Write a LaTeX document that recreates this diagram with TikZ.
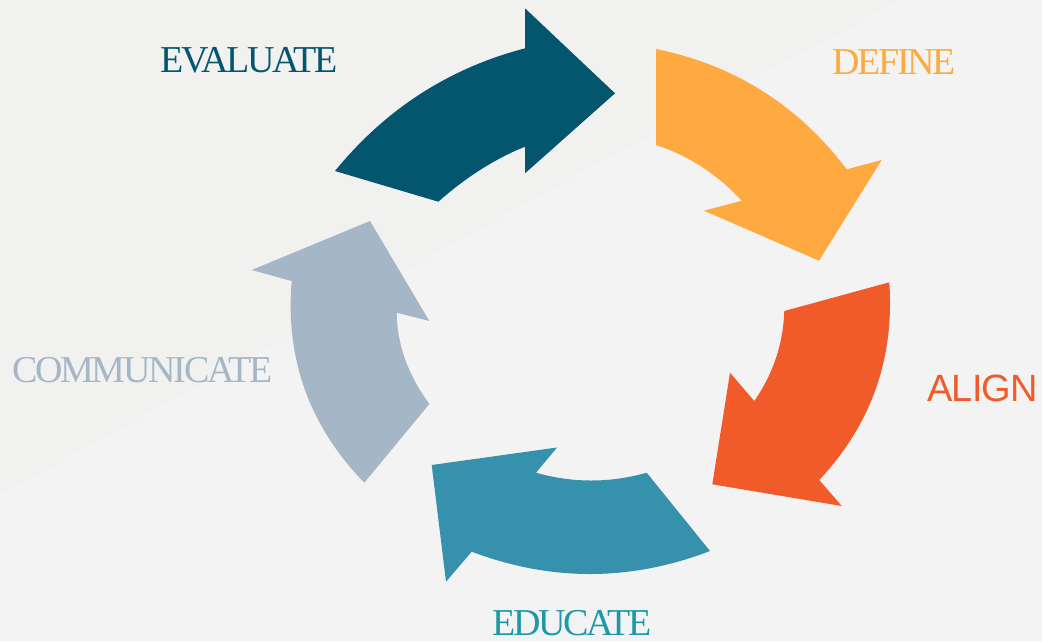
\documentclass[tikz,border=0pt]{standalone}
\usepackage{fontspec}
\setmainfont{Liberation Serif}
\newfontfamily\lblserif[LetterSpace=-6]{Liberation Serif}
\newfontfamily\lblsans[LetterSpace=-2]{Liberation Sans}
\definecolor{bgc}{RGB}{243,243,243}
\definecolor{bgtop}{RGB}{241,241,239}
\definecolor{evalc}{RGB}{4,86,111}
\definecolor{defc}{RGB}{255,170,64}
\definecolor{alignc}{RGB}{241,91,42}
\definecolor{educ}{RGB}{54,145,172}
\definecolor{edutext}{RGB}{28,152,168}
\definecolor{commc}{RGB}{165,182,198}
\tikzset{
  lbl/.style={anchor=base west, inner sep=0pt, font=\lblserif\fontsize{38}{40}\selectfont},
  lblsf/.style={anchor=base west, inner sep=0pt, font=\lblsans\fontsize{38}{40}\selectfont}
}
\begin{document}
\begin{tikzpicture}[x=1pt,y=-1pt]
\useasboundingbox (0,0) rectangle (1042,641);
\fill[bgc] (0,0) rectangle (1042,641);
\fill[bgtop] (0,0) -- (900,0) -- (640,140) -- (0,495) -- cycle;
% EVALUATE arrow
\fill[evalc] (335,171) .. controls (385.4,109.2) and (448.7,68.3) .. (525,48.3)
  -- (525,8.3) -- (615,93.3) -- (525,173.3) -- (525,146.7)
  .. controls (495.2,158.6) and (466.3,177) .. (438.3,201.7) -- cycle;
% DEFINE arrow
\fill[defc] (656,49) .. controls (734.4,64.9) and (798,105) .. (846.7,169.3)
  -- (881.7,160) -- (819,260.7) -- (704,210.7) -- (741.7,200.7)
  .. controls (717.3,174.3) and (688.8,155.8) .. (656,145) -- cycle;
% ALIGN arrow
\fill[alignc] (889.3,282.3) .. controls (894.6,358.4) and (871.3,424.3) .. (819.3,480)
  -- (841.7,506) -- (712.3,484.3) -- (730,372.7) -- (754.3,401)
  .. controls (773.2,373.7) and (783.2,343.7) .. (784.3,311) -- cycle;
% EDUCATE arrow
\fill[educ] (710,551) .. controls (630.8,581.4) and (551.3,581.7) .. (471.7,551.7)
  -- (446,581.7) -- (431.7,465) -- (557,447.5) -- (536,472.7)
  .. controls (572.9,483.1) and (609.8,483.1) .. (646.7,472.7) -- cycle;
% COMMUNICATE arrow
\fill[commc] (364.3,482.7) .. controls (309.4,426.3) and (285.2,359.1) .. (291.7,281)
  -- (251.7,270) -- (370,221) -- (429.3,321) -- (396.7,312.7)
  .. controls (396.9,344) and (407.8,374.4) .. (429.3,404) -- cycle;
% labels
\node[lbl, text=evalc] (tevaluate) at (160,72) {EVALUATE};
\node[lbl, text=defc] (tdefine) at (832,74) {DEFINE};
\node[lblsf, text=alignc] (talign) at (927,401) {ALIGN};
\node[lbl, text=edutext] (teducate) at (492,635) {EDUCATE};
\node[lbl, text=commc] (tcommunicate) at (12,382) {COMMUNICATE};
\end{tikzpicture}
\end{document}
